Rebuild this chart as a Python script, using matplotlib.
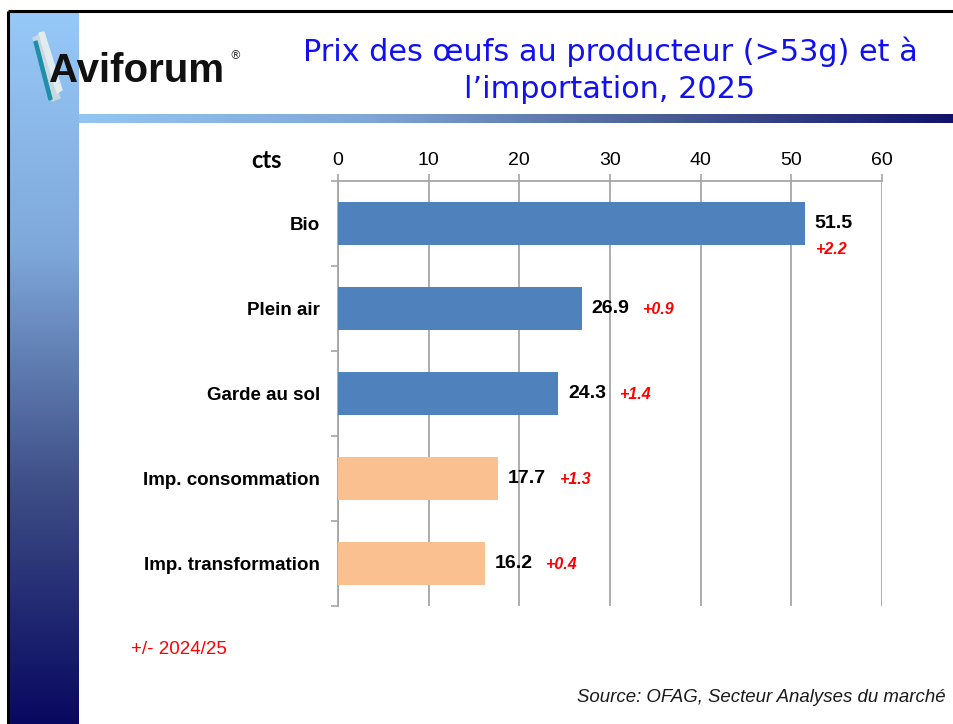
import numpy as np
import matplotlib.pyplot as plt
from matplotlib.colors import LinearSegmentedColormap

# Data
categories = ['Bio', 'Plein air', 'Garde au sol', 'Imp. consommation', 'Imp. transformation']
prices = [51.5, 26.9, 24.3, 17.7, 16.2]
changes = ['+2.2', '+0.9', '+1.4', '+1.3', '+0.4']
bar_colors = ['#4F81BD', '#4F81BD', '#4F81BD', '#FAC090', '#FAC090']
x_ticks = [0, 10, 20, 30, 40, 50, 60]

W, H = 954, 724
fig = plt.figure(figsize=(W / 100, H / 100), dpi=100)

# slide background drawn in pixel coordinates
bg = fig.add_axes([0, 0, 1, 1], zorder=0)
bg.set_xlim(0, W)
bg.set_ylim(H, 0)
bg.axis('off')

# left vertical gradient band
vcmap = LinearSegmentedColormap.from_list('v', ['#96C8F8', '#7FA8DA', '#3E4E86', '#080860'])
grad = np.linspace(0, 1, 256).reshape(-1, 1)
bg.imshow(grad, cmap=vcmap, aspect='auto', extent=(8, 79, H, 12), origin='upper')

# horizontal gradient band under the title
hcmap = LinearSegmentedColormap.from_list('h', ['#93C5F3', '#7FA6D6', '#4A5E94', '#12126A'])
bg.imshow(grad.T, cmap=hcmap, aspect='auto', extent=(79, W, 123, 114))

# slide border
bg.plot([8, W], [11, 11], color='black', lw=2.2, solid_capstyle='butt')
bg.plot([8, 8], [11, H], color='black', lw=2.2, solid_capstyle='butt')

# logo
bg.fill([33, 39, 60, 52], [38, 35, 98, 101], color='#C8D8E0', zorder=2)
bg.fill([39, 44, 62, 57], [33, 32, 90, 93], color='#E2ECF0', zorder=2)
bg.fill([34, 37, 52, 49], [42, 41, 99, 100], color='#1F8FA8', zorder=3)
bg.text(49, 82, 'Aviforum', fontsize=29, fontweight='bold', family='Liberation Sans',
        color='#111111', ha='left', va='baseline', zorder=4)
bg.text(229, 56, '®', fontsize=8.5, color='#333333', ha='left', va='center', zorder=4)

# title
bg.text(610, 52, 'Prix des œufs au producteur (>53g) et à', fontsize=21.8, color='#1010F0',
        ha='center', va='center')
bg.text(610, 90, 'l’importation, 2025', fontsize=21.8, color='#1010F0',
        ha='center', va='center')

# footnotes
bg.text(131, 650, '+/- 2024/25', fontsize=13.5, color='#FF0000', family='Liberation Sans',
        ha='left', va='center')
bg.text(946, 698, 'Source: OFAG, Secteur Analyses du marché', fontsize=13.4, style='italic',
        color='#1A1A1A', family='Liberation Sans', ha='right', va='center')
bg.text(251, 160, 'cts', fontsize=17, fontweight='bold', family='Lato', color='black',
        ha='left', va='center')

# chart
ax = fig.add_axes([338 / W, 1 - 606 / H, 544 / W, 425 / H], zorder=5)
ax.patch.set_alpha(0)
y = np.arange(len(categories))
ax.barh(y, prices, height=0.5, color=bar_colors, zorder=3)
ax.set_xlim(0, 60)
ax.set_ylim(len(categories) - 0.5, -0.5)

grid_col = '#A6A6A6'
ax.xaxis.tick_top()
ax.set_xticks(x_ticks)
ax.set_xticklabels([str(t) for t in x_ticks], family='Liberation Sans', fontsize=14)
ax.tick_params(axis='x', length=5, width=1.2, color=grid_col, pad=3.5)
ax.grid(axis='x', color=grid_col, lw=1.3, zorder=1)

ax.set_yticks(y)
ax.set_yticklabels(categories, family='Liberation Sans', fontsize=13.5, fontweight='bold')
ax.tick_params(axis='y', which='major', length=0, pad=13)
ax.set_yticks(np.arange(-0.5, len(categories), 1), minor=True)
ax.tick_params(axis='y', which='minor', length=5, width=1.2, color=grid_col)

for side in ['right', 'bottom']:
    ax.spines[side].set_visible(False)
for side in ['top', 'left']:
    ax.spines[side].set_color(grid_col)
    ax.spines[side].set_linewidth(1.3)

for i, (v, d) in enumerate(zip(prices, changes)):
    t = ax.annotate(f'{v:.1f}', xy=(v, i), xytext=(7, 0), textcoords='offset points',
                    ha='left', va='center', fontsize=14, fontweight='bold',
                    family='Liberation Sans', color='black')
    if i == 0:
        ax.annotate(d, xy=(0, 0.5), xycoords=t, xytext=(0, -19), textcoords='offset points',
                    ha='left', va='center', fontsize=11.5, fontweight='bold', style='italic',
                    family='Liberation Sans', color='#FF0000')
    else:
        ax.annotate(d, xy=(1, 0.5), xycoords=t, xytext=(9, -1), textcoords='offset points',
                    ha='left', va='center', fontsize=11.5, fontweight='bold', style='italic',
                    family='Liberation Sans', color='#FF0000')

fig.savefig('out.png', dpi=100)
